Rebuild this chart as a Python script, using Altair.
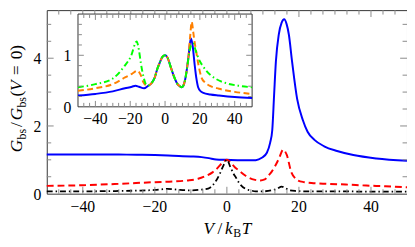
import altair as alt
import numpy as np
import pandas as pd

# ---------------- data ----------------
main_blue_V = [-50, -40, -30, -25, -20, -15, -10, -7, -5, -3, 0, 3, 6, 8, 9.7, 11.1, 12, 12.6,
               13.1, 13.6, 14.4, 15.2, 15.9, 16.6, 17.2, 18.1, 19.5, 21.1, 22.4, 24.3, 27, 30.6,
               35.1, 41.5, 50]
main_blue_G = [1.16, 1.16, 1.155, 1.15, 1.14, 1.12, 1.1, 1.08, 1.05, 1.01, 1.0, 0.99, 0.985, 0.99,
               1.06, 1.21, 1.5, 1.88, 2.9, 3.9, 4.7, 5.05, 5.15, 5.0, 4.7, 3.9, 2.8, 2.17, 1.83,
               1.59, 1.4, 1.26, 1.14, 1.04, 0.97]

main_red_V = [-50, -40, -30, -20, -15, -11, -8, -5.7, -4, -2.5, -1.2, 0, 1.2, 2.2, 3.4, 5.2, 7, 9.3,
              10.5, 11.5, 12.5, 13.4, 14.5, 15.6, 16.6, 17.9, 19, 19.7, 21.5, 24, 27.8, 33, 38.7,
              44, 50]
main_red_G = [0.23, 0.25, 0.29, 0.34, 0.36, 0.39, 0.44, 0.53, 0.63, 0.77, 0.92, 1.0, 0.9, 0.78,
              0.68, 0.53, 0.43, 0.39, 0.42, 0.53, 0.66, 0.82, 1.05, 1.3, 1.15, 0.63, 0.45, 0.39,
              0.34, 0.31, 0.29, 0.27, 0.24, 0.22, 0.19]

main_black_V = [-50, -40, -30, -25, -20, -16.5, -13, -10, -7, -5.2, -4, -3, -2, -1, 0, 1, 2, 2.5,
                3.5, 5.2, 6.5, 8, 10, 12.5, 14, 15.2, 16.3, 17.4, 19, 22, 30, 40, 50]
main_black_G = [0.07, 0.07, 0.08, 0.09, 0.11, 0.14, 0.11, 0.1, 0.12, 0.15, 0.24, 0.38, 0.58, 0.82,
                1.0, 0.78, 0.56, 0.48, 0.3, 0.14, 0.1, 0.07, 0.07, 0.1, 0.15, 0.21, 0.16, 0.1,
                0.08, 0.07, 0.07, 0.06, 0.06]

inset_blue_V = [-50, -40, -30, -23, -19, -17, -15, -12, -10, -8, -6, -4.5, -3, -1.5, 0, 1.5, 3, 5,
                7, 8.5, 9.6, 10.5, 11.5, 12.5, 13.5, 14.8, 15.8, 17, 18, 19, 20.5, 22, 26, 31, 40, 50]
inset_blue_G = [0.22, 0.25, 0.3, 0.36, 0.39, 0.41, 0.39, 0.36, 0.4, 0.45, 0.56, 0.73, 0.86, 0.97,
                1.0, 0.95, 0.8, 0.6, 0.45, 0.4, 0.38, 0.41, 0.52, 0.72, 0.98, 1.33, 1.2, 0.82,
                0.55, 0.38, 0.3, 0.27, 0.24, 0.22, 0.19, 0.17]

inset_orange_V = [-50, -40, -30, -23, -19, -15.8, -14, -12.5, -11, -10, -8, -6, -4.5, -3, -1.5, 0,
                  1.5, 3, 5, 7, 8.5, 9.6, 10.5, 11.5, 12.5, 13.5, 14.5, 15.3, 16.2, 17, 18, 19,
                  20.9, 23, 25.5, 31, 40, 50]
inset_orange_G = [0.31, 0.36, 0.44, 0.57, 0.64, 0.7, 0.62, 0.48, 0.42, 0.41, 0.45, 0.56, 0.73,
                  0.86, 0.97, 1.0, 0.95, 0.8, 0.6, 0.45, 0.4, 0.38, 0.41, 0.52, 0.72, 1.0, 1.4,
                  1.65, 1.45, 1.25, 1.05, 0.85, 0.57, 0.47, 0.41, 0.35, 0.29, 0.25]

inset_green_V = [-50, -40, -30, -23.3, -19.6, -16.3, -15, -13.9, -12.5, -11.2, -10, -8, -6, -4.5,
                 -3, -1.5, 0, 1.5, 3, 5, 7, 8.5, 9.6, 10.5, 11.5, 12.5, 13.9, 15, 16.2, 17.5, 19.9,
                 21.5, 23.7, 26, 29.3, 35, 42, 50]
inset_green_G = [0.38, 0.44, 0.55, 0.79, 0.98, 1.27, 1.1, 0.85, 0.6, 0.45, 0.41, 0.45, 0.56, 0.73,
                 0.86, 0.97, 1.0, 0.95, 0.8, 0.6, 0.45, 0.4, 0.38, 0.41, 0.52, 0.72, 1.04, 1.2,
                 1.23, 1.1, 0.89, 0.8, 0.7, 0.62, 0.54, 0.46, 0.41, 0.38]

x_major = [-40, -20, 0, 20, 40]
x_labels = ["\u221240", "\u221220", "0", "20", "40"]
y_major_main = [0, 2, 4]
y_labels_main = ["0", "2", "4"]
y_major_inset = [0, 1]
y_labels_inset = ["0", "1"]

# ---------------- layout ----------------
W = 367.0
H = 187.0
PAD_L = 39.5
Y_PPU = 34.5
Y_MAX = H / Y_PPU

IN_X0, IN_X1 = 31.8, 209.2        # inset box, plot-area pixels
IN_YB, IN_YT = 98.5, 4.0
IN_YMAX = 1.8

FONT = "Liberation Serif"
FRAME = "#333333"
TICKC = "#8a8a8a"
LFS = 16

xs = alt.Scale(domain=[-50, 50], nice=False, zero=False)
ys = alt.Scale(domain=[0, Y_MAX], nice=False, zero=False)
xs_in = alt.Scale(domain=[-50, 50], range=[IN_X0, IN_X1], nice=False, zero=False)
ys_in = alt.Scale(domain=[0, IN_YMAX], range=[IN_YB, IN_YT], nice=False, zero=False)

x_minor = [round(v, 4) for v in np.arange(-50, 50.001, 10 / 3)
           if all(abs(v - m) > 0.01 for m in x_major) and abs(abs(v) - 50) > 0.01]
y_minor_main = [v for v in np.arange(0.5, Y_MAX, 0.5) if v not in y_major_main]
y_minor_inset = [round(v, 2) for v in np.arange(0.2, IN_YMAX - 0.01, 0.2) if abs(v - 1) > 0.01]


def line(V, G, color, dash, width, xscale, yscale):
    df = pd.DataFrame({"V": V, "G": G})
    kw = dict(color=color, strokeWidth=width, interpolate="monotone")
    if dash:
        kw["strokeDash"] = dash
    return alt.Chart(df).mark_line(**kw).encode(
        x=alt.X("V:Q", scale=xscale, axis=None),
        y=alt.Y("G:Q", scale=yscale, axis=None),
    )


def ticks(xscale, yscale, xvals, yvals, L, left, right, bottom, top):
    dfx = pd.DataFrame({"t": xvals})
    dfy = pd.DataFrame({"t": yvals})
    r = dict(color=TICKC, strokeWidth=1)
    xe = alt.X("t:Q", scale=xscale, axis=None)
    ye = alt.Y("t:Q", scale=yscale, axis=None)
    return [
        alt.Chart(dfx).mark_rule(**r).encode(x=xe, y=alt.value(bottom), y2=alt.value(bottom - L)),
        alt.Chart(dfx).mark_rule(**r).encode(x=xe, y=alt.value(top), y2=alt.value(top + L)),
        alt.Chart(dfy).mark_rule(**r).encode(y=ye, x=alt.value(left), x2=alt.value(left + L)),
        alt.Chart(dfy).mark_rule(**r).encode(y=ye, x=alt.value(right), x2=alt.value(right - L)),
    ]


def tick_labels(xscale, yscale, xvals, xlabs, yvals, ylabs, xlab_y, ylab_x):
    dx = pd.DataFrame({"t": xvals, "s": xlabs})
    dy = pd.DataFrame({"t": yvals, "s": ylabs})
    st = dict(font=FONT, fontSize=LFS, color="black")
    return [
        alt.Chart(dx).mark_text(align="center", baseline="alphabetic", **st).encode(
            x=alt.X("t:Q", scale=xscale, axis=None), y=alt.value(xlab_y), text="s:N"),
        alt.Chart(dy).mark_text(align="right", baseline="middle", dy=1, **st).encode(
            y=alt.Y("t:Q", scale=yscale, axis=None), x=alt.value(ylab_x), text="s:N"),
    ]


def txt(s, px, py, size=17.5, style="normal", angle=0, align="center"):
    # px, py in page coordinates
    return alt.Chart(pd.DataFrame({"a": [0]})).mark_text(
        text=s, font=FONT, fontSize=size, fontStyle=style, angle=angle,
        align=align, baseline="alphabetic", color="black",
    ).encode(x=alt.value(px - (8 + PAD_L)), y=alt.value(py - 8))


# ---------------- main panel ----------------
main_layers = [
    line(main_blue_V, main_blue_G, "#0000ff", None, 2.0, xs, ys),
    line(main_red_V, main_red_G, "#ff0000", [7, 4], 2.0, xs, ys),
    line(main_black_V, main_black_G, "#000000", [6, 3, 1.5, 3], 1.8, xs, ys),
]
main_layers += ticks(xs, ys, x_major, y_major_main[1:], 7, 0, W, H, 0)
main_layers += ticks(xs, ys, x_minor, y_minor_main, 4.5, 0, W, H, 0)
main_layers += tick_labels(xs, ys, x_major, x_labels, y_major_main, y_labels_main,
                           213.5 - 8, 42 - (8 + PAD_L))

# axis titles (composed so that subscripts sit lower)
main_layers += [
    txt("V", 212.5, 236, style="italic"),
    txt("/", 224, 236),
    txt("k", 233, 236, style="italic"),
    txt("B", 241.5, 239, size=12),
    txt("T", 251, 236, style="italic"),
]
YB, YS = 22.5, 26
main_layers += [
    txt("G", YB, 146.5, style="italic", angle=270),
    txt("bs", YS, 134.4, size=12, angle=270),
    txt("/", YB, 124.7, angle=270),
    txt("G", YB, 114.0, style="italic", angle=270),
    txt("bs", YS, 101.9, size=12, angle=270),
    txt("(", YB, 93.2, angle=270),
    txt("V", YB, 85.0, style="italic", angle=270),
    txt("=", YB, 69.1, angle=270),
    txt("0", YB, 53.8, angle=270),
    txt(")", YB, 46.4, angle=270),
]
main = alt.layer(*main_layers)

# ---------------- inset ----------------
frame_df = pd.DataFrame({"x": [-50], "x2": [50], "y": [0], "y2": [IN_YMAX]})
inset_frame = alt.Chart(frame_df).mark_rect(fill="white", stroke=FRAME, strokeWidth=1).encode(
    x=alt.X("x:Q", scale=xs_in, axis=None), x2="x2:Q",
    y=alt.Y("y:Q", scale=ys_in, axis=None), y2="y2:Q",
)
inset_layers = [
    inset_frame,
    line(inset_blue_V, inset_blue_G, "#0000ff", None, 2.0, xs_in, ys_in),
    line(inset_orange_V, inset_orange_G, "#ff8000", [6, 3.5], 2.0, xs_in, ys_in),
    line(inset_green_V, inset_green_G, "#00ff00", [6, 3, 1.5, 3], 2.0, xs_in, ys_in),
]
inset_layers += ticks(xs_in, ys_in, x_major, [1], 6, IN_X0, IN_X1, IN_YB, IN_YT)
inset_layers += ticks(xs_in, ys_in, x_minor, y_minor_inset, 4, IN_X0, IN_X1, IN_YB, IN_YT)
inset_layers += tick_labels(xs_in, ys_in, x_major, x_labels, y_major_inset, y_labels_inset,
                            123.5 - 8, 72.5 - (8 + PAD_L))
inset = alt.layer(*inset_layers)

chart = (
    alt.layer(main, inset)
    .resolve_scale(x="independent", y="independent")
    .properties(
        width=W, height=H,
        padding={"left": PAD_L, "top": 0, "right": 0, "bottom": 44},
        autosize=alt.AutoSizeParams(type="none"),
        background="white",
    )
    .configure_view(stroke=FRAME, strokeWidth=1)
)

chart.save("out.html", embed_options={"renderer": "svg", "actions": False})
